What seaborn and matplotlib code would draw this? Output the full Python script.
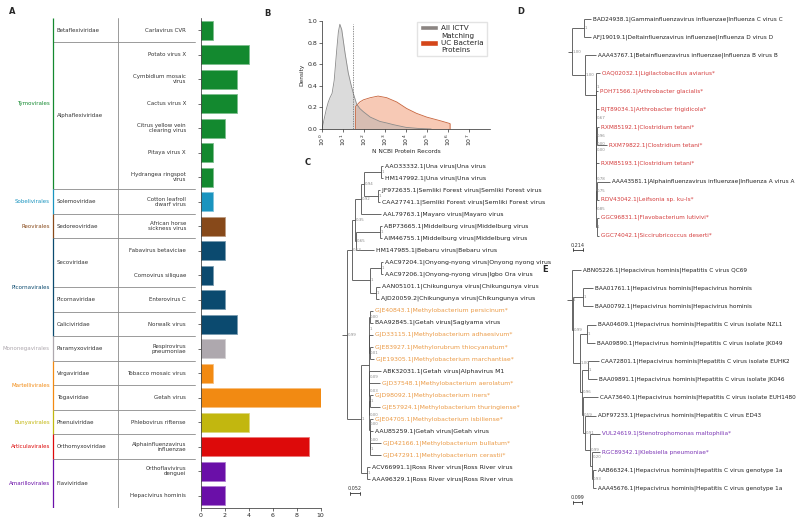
import numpy as np
import pandas as pd
import seaborn as sns
import matplotlib.pyplot as plt
from matplotlib.patches import Patch
from matplotlib.colors import to_rgb

# ---------------- panel A data ----------------
species = ['Carlavirus CVR', 'Potato virus X', 'Cymbidium mosaic\nvirus', 'Cactus virus X',
           'Citrus yellow vein\nclearing virus', 'Pitaya virus X', 'Hydrangea ringspot\nvirus',
           'Cotton leafroll\ndwarf virus', 'African horse\nsickness virus', 'Fabavirus betaviciae',
           'Comovirus siliquae', 'Enterovirus C', 'Norwalk virus', 'Respirovirus\npneumoniae',
           'Tobacco mosaic virus', 'Getah virus', 'Phlebovirus riftense',
           'Alphainfluenzavirus\ninfluenzae', 'Orthoflavivirus\ndenguei', 'Hepacivirus hominis']
counts = [1, 4, 3, 3, 2, 1, 1, 1, 2, 2, 1, 2, 3, 2, 1, 10, 4, 9, 2, 2]
families = ['Betaflexiviridae'] + ['Alphaflexiviridae'] * 6 + ['Solemoviridae', 'Sedoreoviridae',
            'Secoviridae', 'Secoviridae', 'Picornaviridae', 'Caliciviridae', 'Paramyxoviridae',
            'Virgaviridae', 'Togaviridae', 'Phenuiviridae', 'Orthomyxoviridae',
            'Flaviviridae', 'Flaviviridae']
orders = ['Tymovirales'] * 7 + ['Sobelivirales', 'Reovirales'] + ['Picornavirales'] * 4 + \
         ['Mononegavirales', 'Martellivirales', 'Martellivirales', 'Bunyavirales',
          'Articulavirales', 'Amarillovirales', 'Amarillovirales']
order_colors = {'Tymovirales': '#13892f', 'Sobelivirales': '#1a94bf', 'Reovirales': '#87491a',
                'Picornavirales': '#0b4a6f', 'Mononegavirales': '#aea8ae',
                'Martellivirales': '#f28a12', 'Bunyavirales': '#c2b70f',
                'Articulavirales': '#dd0a0a', 'Amarillovirales': '#6a0fa8'}

# ---------------- panel B data (density curves) ----------------
gray_log10 = [0.0, 0.1, 0.2, 0.3, 0.38, 0.48, 0.58, 0.7, 0.78, 0.85, 0.94, 1.02, 1.1, 1.25,
              1.37, 1.49, 1.65, 1.8, 1.97, 2.3, 2.76, 3.1, 3.4, 4.0, 4.6, 5.2]
gray_density = [0.0, 0.09, 0.18, 0.25, 0.29, 0.33, 0.45, 0.73, 0.9, 0.97, 0.92, 0.81, 0.70, 0.52,
                0.42, 0.33, 0.23, 0.19, 0.16, 0.11, 0.07, 0.055, 0.04, 0.015, 0.005, 0.0]
orange_log10 = [1.6, 1.6, 1.8, 1.97, 2.3, 2.67, 3.08, 3.56, 4.03, 4.5, 4.99, 5.62, 6.1, 6.1]
orange_density = [0.0, 0.21, 0.25, 0.27, 0.29, 0.305, 0.29, 0.25, 0.19, 0.145, 0.11, 0.077, 0.05, 0.0]
threshold_records = 30

# ---------------- panels C, D, E: newick trees ----------------
una = "('AAO33332.1|Una virus|Una virus':0.008,'HM147992.1|Una virus|Una virus':0.008)1:0.088"
sem = ("('JF972635.1|Semliki Forest virus|Semliki Forest virus':0.010,"
       "'CAA27741.1|Semliki Forest virus|Semliki Forest virus':0.010)1:0.073")
mid = ("('ABP73665.1|Middelburg virus|Middelburg virus':0.010,"
       "'AIM46755.1|Middelburg virus|Middelburg virus':0.010)1:0.125")
onn = ("('AAC97204.1|Onyong-nyong virus|Onyong nyong virus':0.010,"
       "'AAC97206.1|Onyong-nyong virus|Igbo Ora virus':0.010)1:0.056")
chik = ("('AAN05101.1|Chikungunya virus|Chikungunya virus':0.022,"
        "'AJD20059.2|Chikungunya virus|Chikungunya virus':0.017)1:0.030")
c63 = ("((((" + una + "," + sem + ")0.94:0.017,'AAL79763.1|Mayaro virus|Mayaro virus':0.106)0.92:0.030,"
       "(" + mid + ",'HM147985.1|Bebaru virus|Bebaru virus':0.091)0.65:0.005)0.35:0.014,"
       "(" + onn + "," + chik + ")1:0.092)0.63:0.028")
getah_a = ("(('GJE40843.1|Methylobacterium persicinum*':0.018,'BAA92845.1|Getah virus|Sagiyama virus':0.018)0.00:0.002,"
           "'GJD33115.1|Methylobacterium adhaesivum*':0.020,"
           "('GJE83927.1|Methylorubrum thiocyanatum*':0.018,'GJE19305.1|Methylobacterium marchantiae*':0.022)0.01:0.002)1:0.002")
n3 = "('ABK32031.1|Getah virus|Alphavirus M1':0.060,'GJD37548.1|Methylobacterium aerolatum*':0.058)0.09:0.001"
n5 = "('GJD98092.1|Methylobacterium iners*':0.015,'GJE57924.1|Methylobacterium thuringiense*':0.055)1:0.002"
n7 = "('GJD42166.1|Methylobacterium bullatum*':0.058,'GJD47291.1|Methylobacterium cerastii*':0.058)1:0.002"
dn = ("('GJE04705.1|Methylobacterium isbiliense*':0.018,('AAU85259.1|Getah virus|Getah virus':0.017,"
      + n7 + ")0.00:0.001)0.00:0.001")
getah_b = "(" + n3 + ",(" + n5 + "," + dn + ")0.00:0.001)0.03:0.001"
getah = "(" + getah_a + "," + getah_b + "):0.043"
ross = "('ACV66991.1|Ross River virus|Ross River virus':0.018,'AAA96329.1|Ross River virus|Ross River virus':0.018)1:0.031"
tree_c = "(" + c63 + ",(" + getah + "," + ross + ")1:0.071)0.99:0.026;"

t1 = ("(('RXM85192.1|Clostridium tetani*':0.05,'RXM79822.1|Clostridium tetani*':0.227)0.96:0.002,"
      "'RXM85193.1|Clostridium tetani*':0.05)0.00:0.002")
t2 = ("(('AAA43581.1|Alphainfluenzavirus influenzae|Influenza A virus A':0.287,'RDV43042.1|Leifsonia sp. ku-ls*':0.05)0.75:0.002,"
      "('GGC96831.1|Flavobacterium lutivivi*':0.05,'GGC74042.1|Siccirubricoccus deserti*':0.05)1:0.002)0.85:0.002")
ss = "('RJT89034.1|Arthrobacter frigidicola*':0.05,(" + t1 + "," + t2 + ")0.78:0.002)0.00:0.002"
rr = "('POH71566.1|Arthrobacter glacialis*':0.05," + ss + ")0.67:0.002"
yy = "('OAQ02032.1|Ligilactobacillus aviarius*':0.086," + rr + ")1:0.235"
xx = "('AAA43767.1|Betainfluenzavirus influenzae|Influenza B virus B':0.235," + yy + ")1.00:0.285"
cd = ("('BAD24938.1|Gammainfluenzavirus influenzae|Influenza C virus C':0.14,"
      "'AFJ19019.1|Deltainfluenzavirus influenzae|Influenza D virus D':0.14)1:0.27")
tree_d = "(" + cd + "," + xx + ")1.00:0.08;"

p1213 = ("('AAB66324.1|Hepacivirus hominis|Hepatitis C virus genotype 1a':0.041,"
         "'AAA45676.1|Hepacivirus hominis|Hepatitis C virus genotype 1a':0.041)0.93:0.006")
q11 = "('RGC89342.1|Klebsiella pneumoniae*':0.094," + p1213 + ")0.20:0.024"
q10 = "('VUL24619.1|Stenotrophomonas maltophilia*':0.118," + q11 + ")0.99:0.059"
q9 = "('ADF97233.1|Hepacivirus hominis|Hepatitis C virus ED43':0.130," + q10 + ")0.91:0.024"
q8 = "('CAA73640.1|Hepacivirus hominis|Hepatitis C virus isolate EUH1480':0.175," + q9 + ")0.59:0.012"
p67 = ("('CAA72801.1|Hepacivirus hominis|Hepatitis C virus isolate EUHK2':0.120,"
       "'BAA09891.1|Hepacivirus hominis|Hepatitis C virus isolate JK046':0.103)1:0.074")
p45 = ("('BAA04609.1|Hepacivirus hominis|Hepatitis C virus isolate NZL1':0.110,"
       "'BAA09890.1|Hepacivirus hominis|Hepatitis C virus isolate JK049':0.092)1:0.079")
p23 = ("('BAA01761.1|Hepacivirus hominis|Hepacivirus hominis':0.109,"
       "'BAA00792.1|Hepacivirus hominis|Hepacivirus hominis':0.109)1:0.122")
en3 = "(" + p45 + ",(" + p67 + "," + q8 + ")0.96:0.024)1.00:0.083"
tree_e = ("('ABN05226.1|Hepacivirus hominis|Hepatitis C virus QC69':0.106,(" + p23 + "," + en3
          + ")0.99:0.012)1:0.063;")


def parse_newick(s):
    pos = 0

    def node():
        nonlocal pos
        nd = {'children': [], 'name': None, 'support': None, 'length': 0.0}
        if s[pos] == '(':
            pos += 1
            while True:
                nd['children'].append(node())
                if s[pos] == ',':
                    pos += 1
                else:
                    pos += 1  # ')'
                    break
            start = pos
            while s[pos] not in ':,);':
                pos += 1
            if pos > start:
                nd['support'] = s[start:pos]
        elif s[pos] == "'":
            end = s.index("'", pos + 1)
            nd['name'] = s[pos + 1:end]
            pos = end + 1
        if s[pos] == ':':
            pos += 1
            start = pos
            while s[pos] not in ',);':
                pos += 1
            nd['length'] = float(s[start:pos])
        return nd
    return node()


def layout(nd, x0, leaves):
    nd['x'] = x0 + nd['length']
    if not nd['children']:
        nd['y'] = len(leaves)
        leaves.append(nd)
    else:
        for c in nd['children']:
            layout(c, nd['x'], leaves)
        nd['y'] = (nd['children'][0]['y'] + nd['children'][-1]['y']) / 2


def draw_tree(ax, nd, x0, upp, hi_color, fs, leaves):
    lc = '#4d4d4d'
    ax.plot([x0, nd['x']], [nd['y'], nd['y']], color=lc, lw=0.6, solid_capstyle='butt')
    if nd['children']:
        ax.plot([nd['x'], nd['x']], [nd['children'][0]['y'], nd['children'][-1]['y']],
                color=lc, lw=0.6, solid_capstyle='butt')
        for c in nd['children']:
            draw_tree(ax, c, nd['x'], upp, hi_color, fs, leaves)
        if nd['support'] is not None:
            # move the label half a row up when a short leaf label sits on the same row
            crowded = any(abs(lf['y'] - nd['y']) < 0.3 and lf['x'] - nd['x'] < 9 * upp
                          for lf in leaves)
            ax.text(nd['x'] + 0.5 * upp, nd['y'] - (0.45 if crowded else 0), nd['support'],
                    fontsize=2.9, color='#8c8c8c', ha='left', va='center')
    else:
        col = hi_color if nd['name'].endswith('*') else '#222222'
        ax.text(nd['x'], nd['y'], ' ' + nd['name'], fontsize=fs, color=col, ha='left', va='center')


def groups(labels):
    out, start = [], 0
    for i in range(1, len(labels) + 1):
        if i == len(labels) or labels[i] != labels[start]:
            out.append((labels[start], start, i - 1))
            start = i
    return out


sns.set_style('ticks')
plt.rcParams['font.family'] = ['DejaVu Sans']

W, H = 800, 518
fig = plt.figure(figsize=(8, 5.18), dpi=100)


def px_axes(l, t, r, b):
    return fig.add_axes([l / W, 1 - b / H, (r - l) / W, (b - t) / H])


# ---------------- A: bars ----------------
ax_bar = px_axes(200.7, 18, 320.7, 508)
df = pd.DataFrame({'species': species, 'count': counts, 'order': orders})
sns.barplot(data=df, y='species', x='count', hue='order', palette=order_colors, dodge=False,
            saturation=1, width=0.78, legend=False, orient='h', ax=ax_bar)
for p in ax_bar.patches:
    r, g, b = to_rgb(p.get_facecolor())
    p.set_edgecolor((r + (1 - r) * 0.45, g + (1 - g) * 0.45, b + (1 - b) * 0.45))
    p.set_linewidth(0.6)
ax_bar.set_xlim(0, 10)
ax_bar.set_xticks(range(0, 11, 2))
ax_bar.set_yticklabels([])
ax_bar.set_xlabel('')
ax_bar.set_ylabel('')
ax_bar.tick_params(length=2, width=0.5, labelsize=4.5, pad=1.5, color='#333333')
sns.despine(ax=ax_bar)
for sp in ax_bar.spines.values():
    sp.set_linewidth(0.5)

# ---------------- A: table ----------------
ax_tab = px_axes(0, 18, 200.7, 508)
ax_tab.set_xlim(0, 200.7)
ax_tab.set_ylim(len(species) - 0.5, -0.5)
ax_tab.axis('off')
ax_tab.plot([118, 118], [-0.5, len(species) - 0.5], color='#8a8a8a', lw=0.6)
for name, s, e in groups(families):
    ax_tab.text(57, (s + e) / 2, name, ha='left', va='center', fontsize=4, color='#333333')
    ax_tab.plot([53, 195], [e + 0.5, e + 0.5], color='#8a8a8a', lw=0.6)
for name, s, e in groups(orders):
    ax_tab.plot([53, 53], [s - 0.5, e + 0.5], color=order_colors[name], lw=0.9,
                solid_capstyle='butt')
    ax_tab.text(50, (s + e) / 2, name, ha='right', va='center', fontsize=4,
                color=order_colors[name])
for i, sp in enumerate(species):
    ax_tab.text(186, i, sp, ha='right', va='center', fontsize=4, color='#333333',
                multialignment='right', linespacing=1.0)

# ---------------- B: density ----------------
ax_b = px_axes(322, 21, 490, 129)
ax_b.fill_between(orange_log10, orange_density, color='#ec7a48', alpha=0.4, lw=0)
sns.lineplot(x=orange_log10, y=orange_density, color='#c8643c', lw=0.6, estimator=None,
             sort=False, ax=ax_b)
ax_b.fill_between(gray_log10, gray_density, color='#b0b0b0', alpha=0.45, lw=0)
sns.lineplot(x=gray_log10, y=gray_density, color='#8a8a8a', lw=0.6, estimator=None,
             sort=False, ax=ax_b)
ax_b.vlines(np.log10(threshold_records), 0, max(gray_density), color='#666666', lw=0.5,
            linestyles=(0, (2, 1.5)))
ax_b.set_xlim(0, 8)
ax_b.set_ylim(0, 1.0)
ax_b.set_xticks(range(8))
ax_b.set_xticklabels([f'$10^{{{k}}}$' for k in range(8)], rotation=90)
ax_b.set_yticks(np.arange(0, 1.01, 0.2))
ax_b.set_xlabel('N NCBI Protein Records', fontsize=4.2, labelpad=2)
ax_b.set_ylabel('Density', fontsize=4.2, labelpad=2)
ax_b.tick_params(length=2, width=0.5, labelsize=4.5, pad=1.5, color='#333333')
sns.despine(ax=ax_b)
for sp in ax_b.spines.values():
    sp.set_linewidth(0.5)
ax_b.legend(handles=[Patch(facecolor='#8b8582', label='All ICTV'),
                     Patch(facecolor='#d4461a', label='Matching\nUC Bacteria\nProteins')],
            loc='upper right', bbox_to_anchor=(0.985, 1.0), fontsize=5.2, frameon=True,
            edgecolor='#dddddd', fancybox=False, handlelength=2.6, handleheight=0.8,
            borderpad=0.4, labelspacing=0.3, handletextpad=0.4, borderaxespad=0.1)

# ---------------- C, D, E: trees ----------------
tree_specs = [
    # newick, axes box px, origin px, units/px, first leaf px, leaf step px, highlight, fs, scale, bar x
    (tree_c, (338, 155, 560, 500), 342, 0.0052, 166, 12.05, '#eb9a45', 4.4, 0.052, 350),
    (tree_d, (560, 5, 800, 258), 568, 0.0214, 19, 18.06, '#d43c3c', 4.15, 0.214, 573),
    (tree_e, (560, 262, 800, 518), 566.7, 0.0118, 270, 18.19, '#7b35b5', 4.15, 0.099, 573.3),
]
for nwk, box, ox, upp, fy, step, hi, fs, scale, sx in tree_specs:
    l, t, r, b = box
    ax = px_axes(l, t, r, b)
    ax.set_xlim((l - ox) * upp, (r - ox) * upp)
    ax.set_ylim((b - fy) / step, (t - fy) / step)
    ax.axis('off')
    root = parse_newick(nwk)
    leaves = []
    layout(root, 0.0, leaves)
    draw_tree(ax, root, 0.0, upp, hi, fs, leaves)
    ysb = len(leaves) - 1 + 14.0 / step
    x0 = (sx - ox) * upp
    tick = 1.6 / step
    ax.plot([x0, x0 + scale], [ysb, ysb], color='#333333', lw=0.6)
    ax.plot([x0, x0], [ysb - tick, ysb + tick], color='#333333', lw=0.6)
    ax.plot([x0 + scale, x0 + scale], [ysb - tick, ysb + tick], color='#333333', lw=0.6)
    ax.text(x0 + scale / 2, ysb - 2.0 / step, f'{scale:.3f}', fontsize=3.5, color='#333333',
            ha='center', va='bottom')

# ---------------- panel letters ----------------
for letter, (px, py) in {'A': (12, 12), 'B': (267, 14), 'C': (308, 163),
                         'D': (521, 12), 'E': (545, 269)}.items():
    fig.text(px / W, 1 - py / H, letter, fontsize=6, fontweight='bold', ha='center', va='center')

fig.savefig('out.png', dpi=100)
